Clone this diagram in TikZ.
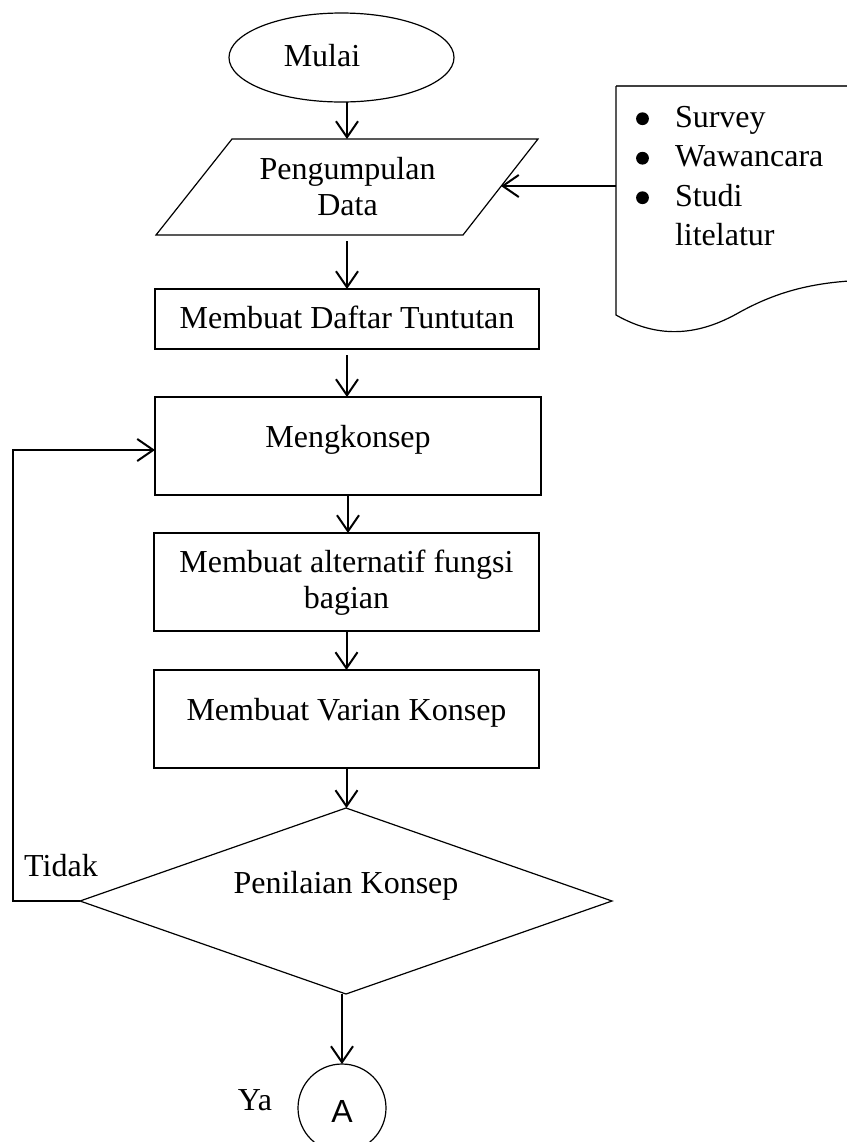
\documentclass[tikz,border=0pt]{standalone}
\usepackage{fontspec}
\setmainfont{Liberation Serif}
\newfontfamily\sansA{Liberation Sans}
\usetikzlibrary{arrows.meta,shapes.geometric}
\newcommand\tp[3]{\raisebox{#2}[0pt][0pt]{\makebox[0pt]{\kern#1\makebox[0pt]{#3}}}}
\begin{document}
\begin{tikzpicture}[x=0.5pt,y=-0.5pt,
  every node/.style={inner sep=0pt, outer sep=0pt, font=\fontsize{16}{18}\selectfont},
  shp/.style={draw, line width=0.6pt},
  box/.style={shp, rectangle},
  arr/.style={line width=1pt, -{Straight Barb[length=8pt,width=11pt]}},
  gap/.style={shorten <=3pt},
  bulletdot/.style={fill=black}
]
\useasboundingbox (0,0) rectangle (847,1142);
\clip (0,0) rectangle (847,1142);

% start
\node[shp, ellipse, minimum width=112.5pt, minimum height=44.5pt] (e) at (341.5,57.5) {\tp{-19.5pt}{-4.25pt}{Mulai}};

% parallelogram (data input)
\coordinate (pbl) at (156,235);
\coordinate (ptl) at (232,139);
\coordinate (ptr) at (538,139);
\coordinate (pbr) at (463,235);
\draw[line width=0.6pt] (pbl) -- (ptl) -- (ptr) -- (pbr) -- cycle;
\node (pd) at (347.5,187) {\tp{0pt}{4pt}{\begin{tabular}[t]{@{}c@{}}Pengumpulan\\Data\end{tabular}}};
\coordinate (ptop) at (347,139);
\coordinate (pbot) at (347,235);
\coordinate (pin) at (501,186);

% document shape
\coordinate (dtl) at (616,86);
\coordinate (dtr) at (880,86);
\coordinate (dbl) at (616,315);
\draw[line width=0.6pt, black!75] (dtl) -- (dtr);
\draw[line width=0.6pt] (dtl) -- (dbl) .. controls (660,340) and (700,335) .. (740,312)
      .. controls (780,290) and (820,280) .. (880,280);
\node (doc) at (675,127) {\raisebox{0pt}[0pt][0pt]{\makebox[0pt][l]{\fontsize{16}{19.75}\selectfont
  \begin{tabular}[t]{@{}l@{}}
  Survey\\
  Wawancara\\
  Studi\\
  litelatur
  \end{tabular}}}};
\fill[bulletdot] (642.5,118.7) circle[radius=3.2pt];
\fill[bulletdot] (642.5,158.2) circle[radius=3.2pt];
\fill[bulletdot] (642.5,197.7) circle[radius=3.2pt];
\coordinate (docin) at (616,186);

% process boxes
\node[box, minimum width=192pt, minimum height=30pt] (r1) at (347,319) {\tp{0pt}{-4.5pt}{Membuat Daftar Tuntutan}};
\node[box, minimum width=193pt, minimum height=49pt] (r2) at (348,446) {\tp{0pt}{-0.5pt}{Mengkonsep}};
\node[box, minimum width=192.5pt, minimum height=49pt] (r3) at (346.5,582) {\tp{0pt}{5pt}{\begin{tabular}[t]{@{}c@{}}Membuat alternatif fungsi\\bagian\end{tabular}}};
\node[box, minimum width=192.5pt, minimum height=49pt] (r4) at (346.5,719) {\tp{0pt}{-0.5pt}{Membuat Varian Konsep}};

% decision
\node[shp, diamond, minimum width=266pt, minimum height=93pt] (dia) at (346,901) {\tp{0pt}{4pt}{Penilaian Konsep}};

% connector
\node[shp, circle, minimum size=44pt] (cA) at (342,1108) {\tp{0pt}{-7.35pt}{\sansA A}};

% labels
\node (tidak) at (61,876) {\tp{0pt}{0pt}{Tidak}};
\node (ya) at (255,1110.7) {\tp{0pt}{0pt}{Ya}};

% connectors
\draw[arr] (e.south -| ptop) -- (ptop);
\draw[arr, gap] (pbot) -- (r1.north -| pbot);
\draw[arr] (docin) -- (pin);
\draw[arr, gap] (r1.south) -- (r1.south |- r2.north);
\draw[arr] (r2.south) -- (r2.south |- r3.north);
\draw[arr] (r3.south) -- (r3.south |- r4.north);
\draw[arr] (r4.south) -- (r4.south |- dia.north);
\coordinate (lp) at (13,901);
\draw[arr] (dia.west) -- (lp) |- ([yshift=-2pt]r2.west);
\draw[arr] (cA.north |- dia.south) -- (cA.north);
\end{tikzpicture}
\end{document}
